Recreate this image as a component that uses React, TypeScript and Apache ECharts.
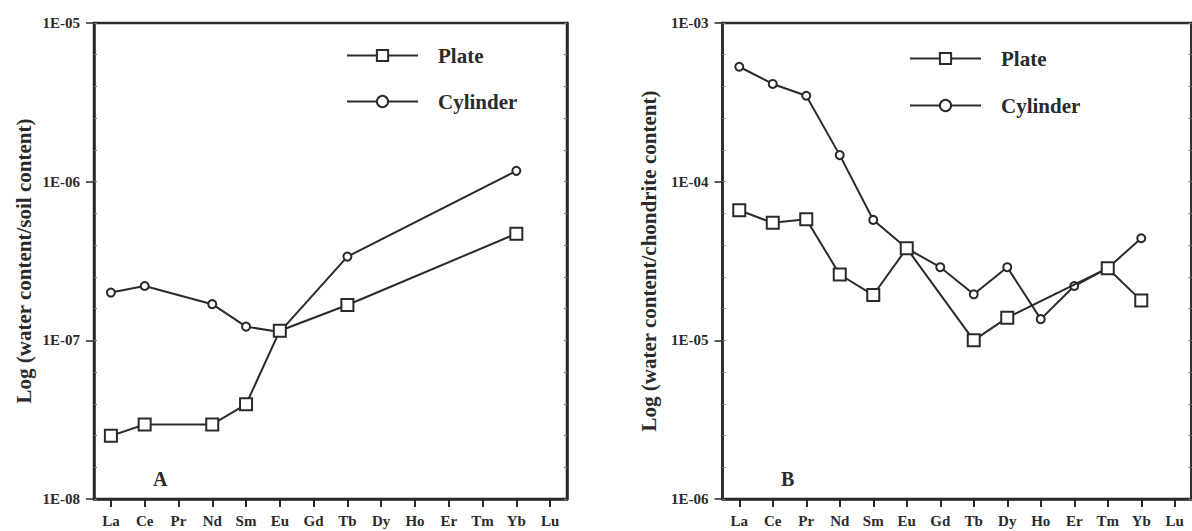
import React, { useEffect, useRef } from "react";
import * as echarts from "echarts";

const categories = ["La", "Ce", "Pr", "Nd", "Sm", "Eu", "Gd", "Tb", "Dy", "Ho", "Er", "Tm", "Yb", "Lu"];
const seriesNames = ["Plate", "Cylinder"];
// Panel A: water content / soil content
const plateA = [2.5e-8, 2.95e-8, null, 2.95e-8, 3.95e-8, 1.15e-7, null, 1.67e-7, null, null, null, null, 4.7e-7, null];
const cylinderA = [2.0e-7, 2.2e-7, null, 1.69e-7, 1.22e-7, 1.13e-7, null, 3.37e-7, null, null, null, null, 1.17e-6, null];
// Panel B: water content / chondrite content
const plateB = [6.6e-5, 5.5e-5, 5.8e-5, 2.6e-5, 1.93e-5, 3.8e-5, null, 1.0e-5, 1.39e-5, null, null, 2.85e-5, 1.78e-5, null];
const cylinderB = [5.3e-4, 4.13e-4, 3.48e-4, 1.47e-4, 5.74e-5, 3.8e-5, 2.89e-5, 1.95e-5, 2.89e-5, 1.36e-5, 2.2e-5, 2.85e-5, 4.4e-5, null];
const tickLabelsA = ["1E-08", "1E-07", "1E-06", "1E-05"];
const tickLabelsB = ["1E-06", "1E-05", "1E-04", "1E-03"];
const expRangeA = [-8, -5];
const expRangeB = [-6, -3];
const yTitleA = "Log (water content/soil content)";
const yTitleB = "Log (water content/chondrite content)";
const panelLetters = ["A", "B"];

const INK = "#2a2a2a";
const FONT = "'Liberation Serif', 'Times New Roman', serif";

export default function App() {
  const ref = useRef<HTMLDivElement>(null);
  useEffect(() => {
    if (!ref.current) return;
    const chart = echarts.init(ref.current, undefined, { renderer: "svg" });
    const grids = [
      { left: 94, top: 23, width: 473, height: 476 },
      { left: 722.5, top: 23, width: 469, height: 476 },
    ];
    const labelsFor = (labels: string[], minExp: number) => (v: number) => {
      const e = Math.round(Math.log10(v));
      return labels[e - minExp] ?? "";
    };
    const xAxes = [0, 1].map((g) => ({
      type: "category",
      gridIndex: g,
      data: categories,
      boundaryGap: true,
      axisLine: { show: true, lineStyle: { color: INK, width: 2.5 } },
      axisTick: { show: true, alignWithLabel: true, length: 8, lineStyle: { color: INK, width: 2 } },
      axisLabel: { color: INK, fontFamily: FONT, fontWeight: "bold", fontSize: 15, margin: 14 },
      splitLine: { show: false },
    }));
    const mainY = (g: number, labels: string[], range: number[], name: string, gap: number) => ({
      type: "log",
      logBase: 10,
      gridIndex: g,
      min: Math.pow(10, range[0]),
      max: Math.pow(10, range[1]),
      name,
      nameLocation: "middle",
      nameGap: gap,
      nameTextStyle: { color: INK, fontFamily: FONT, fontWeight: "bold", fontSize: 21 },
      axisLine: { show: true, lineStyle: { color: INK, width: 2.5 } },
      axisTick: { show: true, length: 8, lineStyle: { color: INK, width: 1.5 } },
      minorTick: { show: false },
      axisLabel: { color: INK, fontFamily: FONT, fontWeight: "bold", fontSize: 15, margin: 14, formatter: labelsFor(labels, range[0]) },
      splitLine: { show: false },
    });
    const minorY = (g: number, range: number[], pos: string, showLine: boolean) => ({
      type: "value",
      gridIndex: g,
      position: pos,
      min: range[0],
      max: range[1],
      interval: 0.2,
      axisLine: { show: showLine, lineStyle: { color: INK, width: 2.5 } },
      axisTick: { show: true, inside: true, length: 3, lineStyle: { color: "#777", width: 1 } },
      axisLabel: { show: false },
      splitLine: { show: false },
    });
    const yAxes = [
      mainY(0, tickLabelsA, expRangeA, yTitleA, 60),
      mainY(1, tickLabelsB, expRangeB, yTitleB, 63),
      minorY(0, expRangeA, "left", false),
      minorY(0, expRangeA, "right", true),
      minorY(1, expRangeB, "left", false),
      minorY(1, expRangeB, "right", true),
    ];
    const mk = (name: string, data: (number | null)[], g: number, isPlate: boolean) => ({
      name,
      type: "line",
      xAxisIndex: g,
      yAxisIndex: g,
      data,
      connectNulls: true,
      symbol: isPlate ? "rect" : "circle",
      symbolSize: isPlate ? 12 : 8,
      showAllSymbol: true,
      lineStyle: { color: INK, width: 2 },
      itemStyle: { color: "#ffffff", borderColor: INK, borderWidth: 2 },
      emphasis: { disabled: true },
      z: isPlate ? 3 : 2,
    });
    const legendCommon = {
      orient: "vertical",
      selectedMode: false,
      itemWidth: 71,
      itemHeight: 14,
      textStyle: { color: INK, fontFamily: FONT, fontWeight: "bold", fontSize: 21, padding: [0, 0, 0, 15] },
      data: seriesNames,
    };
    chart.setOption({
      animation: false,
      backgroundColor: "#ffffff",
      grid: grids.map((g) => ({ ...g, show: true, borderColor: INK, borderWidth: 2.5, backgroundColor: "transparent" })),
      xAxis: xAxes,
      yAxis: yAxes,
      legend: [
        { ...legendCommon, left: 341, top: 40, itemGap: 25 },
        { ...legendCommon, left: 904, top: 43, itemGap: 26 },
      ],
      series: [
        mk(seriesNames[0], plateA, 0, true),
        mk(seriesNames[1], cylinderA, 0, false),
        mk(seriesNames[0], plateB, 1, true),
        mk(seriesNames[1], cylinderB, 1, false),
      ],
      graphic: [
        { type: "text", left: 153, top: 469, style: { text: panelLetters[0], fill: INK, font: `bold 20px ${FONT}` } },
        { type: "text", left: 781, top: 469, style: { text: panelLetters[1], fill: INK, font: `bold 20px ${FONT}` } },
      ],
    });
    return () => chart.dispose();
  }, []);
  return <div ref={ref} style={{ position: "fixed", left: 0, top: 0, width: 1192, height: 531, background: "#fff" }} />;
}
